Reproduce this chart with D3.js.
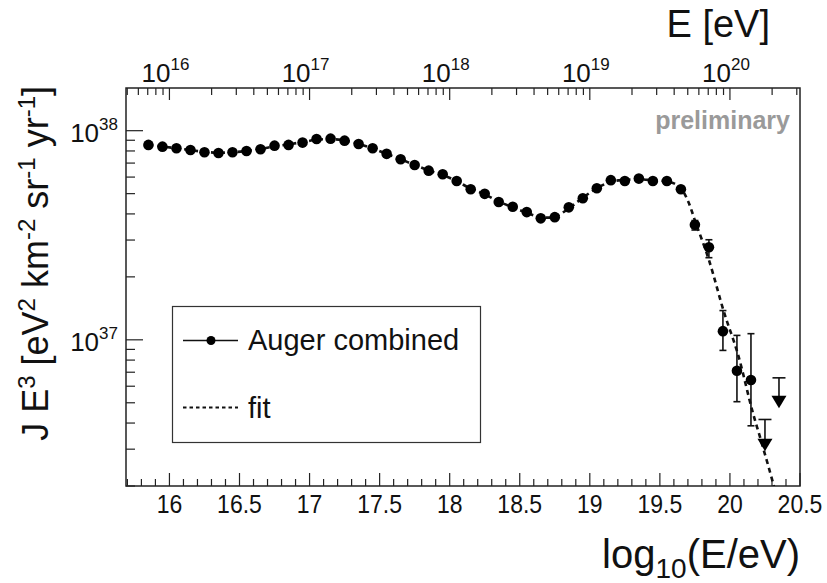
<!DOCTYPE html>
<html><head><meta charset="utf-8">
<script src="https://cdn.jsdelivr.net/npm/d3@7/dist/d3.min.js"></script>
<style>
html,body{margin:0;padding:0;background:#fff;}
svg{display:block;}
text{font-family:"Liberation Sans",Arial,Helvetica,sans-serif;fill:#111;}
</style></head>
<body><svg id="c" width="827" height="583"></svg>
<script>
// ---- data ----
const logE = [15.85,15.95,16.05,16.15,16.25,16.35,16.45,16.55,16.65,16.75,16.85,16.95,17.05,17.15,17.25,17.35,17.45,17.55,17.65,17.75,17.85,17.95,18.05,18.15,18.25,18.35,18.45,18.55,18.65,18.75,18.85,18.95,19.05,19.15,19.25,19.35,19.45,19.55,19.65,19.75,19.85,19.95,20.05,20.15];
const flux = [8.55e37,8.39e37,8.24e37,8.09e37,7.89e37,7.82e37,7.89e37,8.00e37,8.15e37,8.48e37,8.55e37,8.77e37,9.12e37,9.16e37,8.96e37,8.64e37,8.24e37,7.75e37,7.30e37,6.85e37,6.44e37,6.19e37,5.75e37,5.25e37,4.99e37,4.56e37,4.33e37,4.08e37,3.81e37,3.86e37,4.30e37,4.75e37,5.31e37,5.80e37,5.75e37,5.90e37,5.75e37,5.75e37,5.25e37,3.55e37,2.77e37,1.10e37,7.11e36,6.42e36];
const errLogE = [19.75,19.85,19.95,20.05,20.15];
const errLow  = [3.35e37,2.47e37,8.9e36,5.06e36,3.88e36];
const errHigh = [3.72e37,3.01e37,1.38e37,1.05e37,1.07e37];
const limLogE  = [20.25,20.35];
const limValue = [4.16e36,6.58e36];
const limMarker= [3.15e36,5.06e36];
const fitLogE = [15.85,15.95,16.05,16.15,16.25,16.35,16.45,16.55,16.65,16.75,16.85,16.95,17.05,17.15,17.25,17.35,17.45,17.55,17.65,17.75,17.85,17.95,18.05,18.15,18.25,18.35,18.45,18.55,18.65,18.75,18.85,18.95,19.05,19.15,19.25,19.35,19.45,19.55,19.60,19.65,19.70,19.757,19.85,19.96,20.055,20.16,20.22,20.31,20.40];
const fitFlux = [8.55e37,8.40e37,8.24e37,8.08e37,7.92e37,7.85e37,7.88e37,8.00e37,8.18e37,8.42e37,8.60e37,8.82e37,9.05e37,9.12e37,8.98e37,8.66e37,8.22e37,7.75e37,7.30e37,6.86e37,6.46e37,6.14e37,5.74e37,5.28e37,4.96e37,4.58e37,4.30e37,4.05e37,3.86e37,3.88e37,4.25e37,4.78e37,5.30e37,5.70e37,5.82e37,5.85e37,5.80e37,5.72e37,5.60e37,5.31e37,4.62e37,3.61e37,2.41e37,1.34e37,8.63e36,4.57e36,3.33e36,2.04e36,1.20e36];
const xTickLabels = ["16","16.5","17","17.5","18","18.5","19","19.5","20","20.5"];
const topExps = [16,17,18,19,20];
const yExps = [37,38];

// ---- layout ----
const L=126,R=800,T=88,B=486;
const svg = d3.select("#c");
const x = d3.scaleLinear().domain([15.69,20.5]).range([L,R]);
const xE = d3.scaleLog().domain([Math.pow(10,15.69),Math.pow(10,20.5)]).range([L,R]);
const y = d3.scaleLog().domain([2e36,1.6e38]).range([B,T]);

svg.append("clipPath").attr("id","clip").append("rect").attr("x",L).attr("y",T).attr("width",R-L).attr("height",B-T);

// frame
svg.append("rect").attr("x",L).attr("y",T).attr("width",R-L).attr("height",B-T)
  .attr("fill","none").attr("stroke","#222").attr("stroke-width",1.5);

const tickCol="#222";
// bottom axis
const xMinor = d3.range(157,206).map(v=>v/10).filter(v=>v>=15.7&&v<=20.5);
const xMajor = xTickLabels.map(Number);
const gb = svg.append("g");
gb.selectAll("line.mi").data(xMinor.filter(v=>!xMajor.some(m=>Math.abs(m-v)<1e-6))).join("line")
  .attr("x1",d=>x(d)).attr("x2",d=>x(d)).attr("y1",B).attr("y2",B-7).attr("stroke",tickCol).attr("stroke-width",1.2);
gb.selectAll("line.ma").data(xMajor).join("line")
  .attr("x1",d=>x(d)).attr("x2",d=>x(d)).attr("y1",B).attr("y2",B-13).attr("stroke",tickCol).attr("stroke-width",1.2);
gb.selectAll("text").data(xTickLabels).join("text")
  .attr("x",d=>x(+d)).attr("y",513).attr("text-anchor","middle").attr("font-size",25)
  .attr("transform",d=>`translate(${x(+d)},0) scale(0.92,1) translate(${-x(+d)},0)`).text(d=>d);

// top axis (log E)
const gt = svg.append("g");
const topMinor=[];
for(let e=15;e<=20;e++) for(let k=2;k<=9;k++){const v=k*Math.pow(10,e); if(v>=xE.domain()[0]*1.001&&v<=xE.domain()[1]) topMinor.push(v);}
gt.selectAll("line.mi").data(topMinor).join("line")
  .attr("x1",d=>xE(d)).attr("x2",d=>xE(d)).attr("y1",T).attr("y2",T+7).attr("stroke",tickCol).attr("stroke-width",1.2);
gt.selectAll("line.ma").data(topExps).join("line")
  .attr("x1",d=>xE(Math.pow(10,d))).attr("x2",d=>xE(Math.pow(10,d))).attr("y1",T).attr("y2",T+12).attr("stroke",tickCol).attr("stroke-width",1.2);
topExps.forEach(e=>{
  const t = gt.append("text").attr("x",xE(Math.pow(10,e))-4).attr("y",82).attr("text-anchor","middle").attr("font-size",26);
  t.append("tspan").text("10");
  t.append("tspan").attr("dy",-12).attr("font-size",17).text(String(e));
});

// left axis
const gl = svg.append("g");
const yMinor=[];
for(let e=36;e<=38;e++) for(let k=2;k<=9;k++){const v=k*Math.pow(10,e); if(v>=2e36&&v<=1.6e38) yMinor.push(v);}
gl.selectAll("line.mi").data(yMinor).join("line")
  .attr("x1",L).attr("x2",L+9).attr("y1",d=>y(d)).attr("y2",d=>y(d)).attr("stroke",tickCol).attr("stroke-width",1.2);
gl.selectAll("line.ma").data(yExps).join("line")
  .attr("x1",L).attr("x2",L+17).attr("y1",d=>y(Math.pow(10,d))).attr("y2",d=>y(Math.pow(10,d))).attr("stroke",tickCol).attr("stroke-width",1.2);
yExps.forEach(e=>{
  const t = gl.append("text").attr("x",118).attr("y",y(Math.pow(10,e))+11).attr("text-anchor","end").attr("font-size",26);
  t.append("tspan").text("10");
  t.append("tspan").attr("dy",-12).attr("font-size",17).text(String(e));
});

// axis titles
const xt = svg.append("text").attr("x",800).attr("y",568).attr("text-anchor","end").attr("font-size",40);
xt.append("tspan").text("log");
xt.append("tspan").attr("dy",10).attr("font-size",28).text("10");
xt.append("tspan").attr("dy",-10).text("(E/eV)");

svg.append("text").attr("x",770).attr("y",37).attr("text-anchor","end").attr("font-size",38).text("E [eV]");

const yt = svg.append("text").attr("transform","translate(48,86) rotate(-90)").attr("text-anchor","end").attr("font-size",36);
const parts = [["J E",0],["3",1],[" [eV",0],["2",1],[" km",0],["-2",1],[" sr",0],["-1",1],[" yr",0],["-1",1],["]",0]];
let up=false;
parts.forEach(([s,sup])=>{
  const sp = yt.append("tspan").text(s);
  if(sup&&!up){sp.attr("dy",-13).attr("font-size",24); up=true;}
  else if(sup&&up){sp.attr("font-size",24);}
  else if(!sup&&up){sp.attr("dy",13); up=false;}
});

// preliminary
svg.append("text").attr("x",790).attr("y",129).attr("text-anchor","end").attr("font-size",25)
  .attr("font-weight","bold").style("fill","#9a9a9a").text("preliminary");

// plot content
const plot = svg.append("g").attr("clip-path","url(#clip)");
const fitLine = d3.line().x((d,i)=>x(fitLogE[i])).y((d,i)=>y(fitFlux[i])).curve(d3.curveCatmullRom);
plot.append("path").datum(fitFlux).attr("d",fitLine).attr("fill","none").attr("stroke","#111")
  .attr("stroke-width",2.6).attr("stroke-dasharray","5,4");

// error bars
errLogE.forEach((e,i)=>{
  const g = plot.append("g").attr("stroke","#111").attr("stroke-width",1.6);
  g.append("line").attr("x1",x(e)).attr("x2",x(e)).attr("y1",y(errLow[i])).attr("y2",y(errHigh[i]));
  [errLow[i],errHigh[i]].forEach(v=>g.append("line").attr("x1",x(e)-3.5).attr("x2",x(e)+3.5).attr("y1",y(v)).attr("y2",y(v)));
});
// points
plot.selectAll("circle.pt").data(flux).join("circle")
  .attr("cx",(d,i)=>x(logE[i])).attr("cy",d=>y(d)).attr("r",5.3).attr("fill","#000");

// upper limits
limLogE.forEach((e,i)=>{
  const cx=x(e), cap=y(limValue[i]), m=y(limMarker[i]);
  const g = plot.append("g");
  g.append("line").attr("x1",cx-6.5).attr("x2",cx+6.5).attr("y1",cap).attr("y2",cap).attr("stroke","#111").attr("stroke-width",1.6);
  g.append("line").attr("x1",cx).attr("x2",cx).attr("y1",cap).attr("y2",m).attr("stroke","#111").attr("stroke-width",1.6);
  g.append("path").attr("d",`M${cx-7.5},${m-6}L${cx+7.5},${m-6}L${cx},${m+6.5}Z`).attr("fill","#000");
});

// legend
const lg = svg.append("g");
lg.append("rect").attr("x",172.5).attr("y",306.5).attr("width",308).attr("height",136)
  .attr("fill","#fff").attr("stroke","#333").attr("stroke-width",1.2);
lg.append("line").attr("x1",183).attr("x2",238).attr("y1",340.5).attr("y2",340.5).attr("stroke","#111").attr("stroke-width",1.5);
lg.append("circle").attr("cx",211).attr("cy",340.5).attr("r",4.5).attr("fill","#000");
lg.append("text").attr("x",248).attr("y",350).attr("font-size",29).text("Auger combined");
lg.append("line").attr("x1",183).attr("x2",238).attr("y1",407.5).attr("y2",407.5).attr("stroke","#111").attr("stroke-width",2).attr("stroke-dasharray","3.5,3");
lg.append("text").attr("x",248).attr("y",418).attr("font-size",29).text("fit");
</script></body></html>
